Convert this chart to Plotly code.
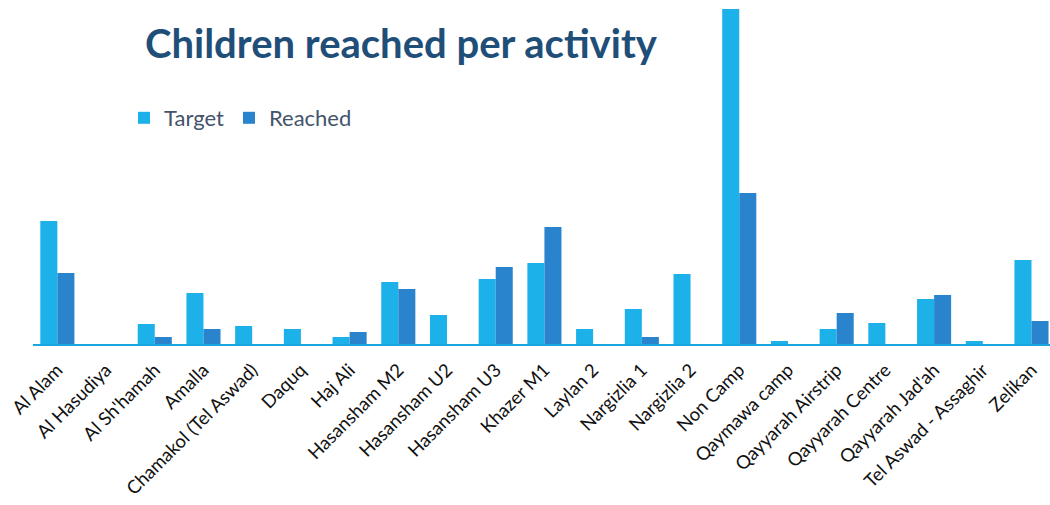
import plotly.graph_objects as go

categories = ["Al Alam", "Al Hasudiya", "Al Sh'hamah", "Amalla", "Chamakol (Tel Aswad)",
              "Daquq", "Haj Ali", "Hasansham M2", "Hasansham U2", "Hasansham U3",
              "Khazer M1", "Laylan 2", "Nargizlia 1", "Nargizlia 2", "Non Camp",
              "Qaymawa camp", "Qayyarah Airstrip", "Qayyarah Centre", "Qayyarah Jad'ah",
              "Tel Aswad - Assaghir", "Zelikan"]
target = [123, 0, 20, 51, 18, 15, 7, 62, 29, 65, 81, 15, 35, 70, 335, 3, 15, 21, 45, 3, 84]
reached = [71, 0, 7, 15, 0, 0, 12, 55, 0, 77, 117, 0, 7, 0, 151, 0, 31, 0, 49, 0, 23]

W, H = 1050, 505
ml, mr, mt, mb = 33, 0, 9, 161
ph = H - mt - mb
pw = W - ml - mr

def px_x(x):
    return (x - ml) / pw

def px_y(y):
    return 1 - (y - mt) / ph

fig = go.Figure()
fig.add_trace(go.Bar(name="Target", x=categories, y=target,
                     marker=dict(color="#1db1ea", line=dict(width=0))))
fig.add_trace(go.Bar(name="Reached", x=categories, y=reached,
                     marker=dict(color="#2a84cd", line=dict(width=0))))

fig.update_layout(
    width=W, height=H,
    margin=dict(l=ml, r=mr, t=mt, b=mb, autoexpand=False),
    paper_bgcolor="white", plot_bgcolor="white",
    barmode="group", bargap=0.3, bargroupgap=0,
    showlegend=True,
    legend=dict(orientation="h", x=px_x(124), xanchor="left",
                y=px_y(118), yanchor="middle",
                font=dict(family="Lato", size=22, color="#44546a"),
                itemwidth=30, traceorder="normal", bgcolor="rgba(0,0,0,0)"),
    xaxis=dict(range=[-0.5, 20.38], showgrid=False, ticks="", showline=True,
               linecolor="#1aa7df", linewidth=2, tickangle=-45, automargin=False,
               ticklabelstandoff=6,
               tickfont=dict(family="Lato", size=18.5, color="#111111")),
    yaxis=dict(range=[0, 335], visible=False, showgrid=False, zeroline=False),
    annotations=[dict(text="<b>Children reached per activity</b>", xref="paper", yref="paper",
                      x=px_x(401), y=px_y(43),
                      xanchor="center", yanchor="middle", showarrow=False,
                      font=dict(family="Lato", size=40, color="#1f4e79"))],
)

fig.write_html("out.html", config={"displayModeBar": False},
               post_script="document.body.style.margin='0';document.body.style.overflow='hidden';")
